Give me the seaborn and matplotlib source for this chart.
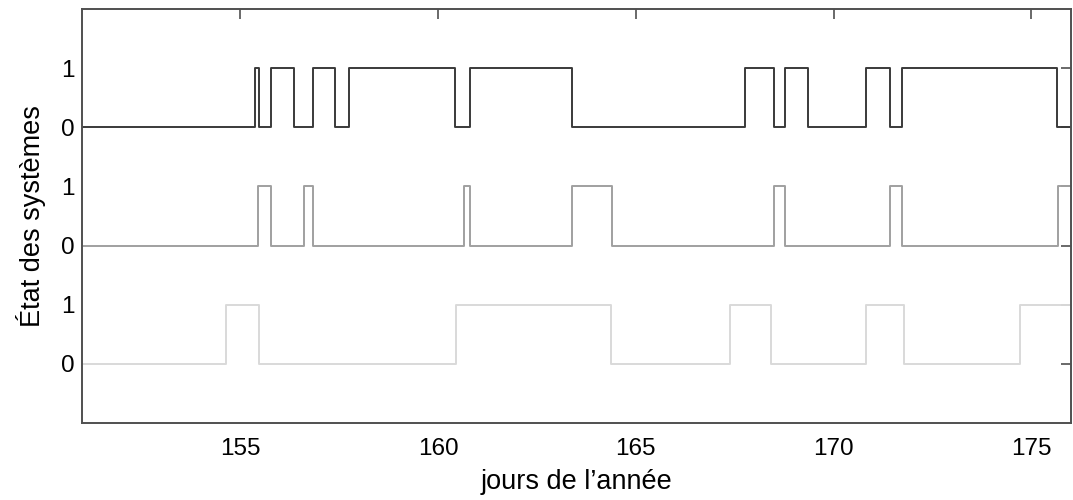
import numpy as np
import pandas as pd
import seaborn as sns
import matplotlib.pyplot as plt

# jours où chaque système change d'état (départ à 0 le jour 151)
debut, fin = 151, 176
bascule_haut = [155.37, 155.47, 155.77, 156.35, 156.83, 157.40, 157.76, 160.44, 160.80,
                163.39, 167.76, 168.48, 168.77, 169.36, 170.81, 171.42, 171.74, 175.65]
bascule_milieu = [155.45, 155.79, 156.61, 156.83, 160.65, 160.80, 163.39, 164.39,
                  168.50, 168.78, 171.42, 171.74, 175.68]
bascule_bas = [154.65, 155.47, 160.46, 164.37, 167.39, 168.41, 170.81, 171.78, 174.70]

systemes = ["haut", "milieu", "bas"]
decalages = [4, 2, 0]
couleurs = ["#3a3a3a", "#a0a0a0", "#d9d9d9"]
ytick_labels = ["0", "1", "0", "1", "0", "1"]
xticks = [155, 160, 165, 170, 175]

rows = []
for nom, bascules, dec in zip(systemes, [bascule_haut, bascule_milieu, bascule_bas], decalages):
    jours = [debut] + bascules + [fin]
    etats = [i % 2 for i in range(len(bascules) + 1)]
    etats.append(etats[-1])
    for j, e in zip(jours, etats):
        rows.append({"jour": j, "niveau": e + dec, "systeme": nom})
df = pd.DataFrame(rows)

sns.set_style("white")
plt.rcParams["font.family"] = ["Liberation Sans", "DejaVu Sans"]

fig, ax = plt.subplots(figsize=(10.73, 5.0), dpi=100)
fig.subplots_adjust(left=82/1073, right=1071/1073, bottom=77/500, top=491/500)

sns.lineplot(data=df, x="jour", y="niveau", hue="systeme", hue_order=systemes,
             palette=dict(zip(systemes, couleurs)), estimator=None, sort=False,
             drawstyle="steps-post", linewidth=1.4, legend=False, ax=ax)

ax.set_xlim(debut, fin)
ax.set_ylim(-1, 6)
ax.set_xticks(xticks)
ax.set_yticks(range(6))
ax.set_yticklabels(ytick_labels)

for s in ax.spines.values():
    s.set_color("#505050")
    s.set_linewidth(1.4)

ax.tick_params(axis="both", direction="in", length=7, width=1.2, color="#505050",
               top=True, right=True, labelsize=17.5, labelcolor="black")
ax.tick_params(axis="x", pad=11)
ax.tick_params(axis="y", pad=5)

ax.set_xlabel("jours de l’année", fontsize=19.5, labelpad=6, color="black")
ax.set_ylabel("État des systèmes", fontsize=19.5, labelpad=11, color="black")

plt.savefig("out.png", dpi=100)
